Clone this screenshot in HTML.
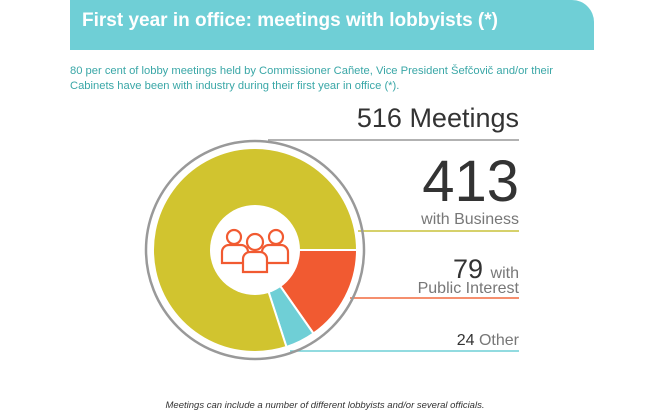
<!DOCTYPE html>
<html><head><meta charset="utf-8"><style>
body{margin:0;background:#fff;width:650px;height:410px;overflow:hidden;position:relative;font-family:"Liberation Sans","DejaVu Sans",sans-serif}
.hdr{position:absolute;left:70px;top:0;width:524px;height:50px;background:#6fcfd6;border-top-right-radius:22px}
.hdr span{position:absolute;left:12px;top:10px;color:#fff;font-weight:bold;font-size:19px}
.sub{position:absolute;left:70px;top:64px;width:525px;color:#3aa7a7;font-size:11.2px;line-height:15px}
.t{position:absolute;right:131px;color:#333;white-space:nowrap}
.g{color:#777}
.foot{position:absolute;left:0;width:650px;top:400px;text-align:center;font-style:italic;font-size:9.5px;color:#333}
</style></head><body>
<div class="hdr"><span>First year in office: meetings with lobbyists (*)</span></div>
<div class="sub">80 per cent of lobby meetings held by Commissioner Cañete, Vice President Šefčovič and/or their Cabinets have been with industry during their first year in office (*).</div>
<svg width="650" height="410" style="position:absolute;left:0;top:0">
<line x1="268" y1="140" x2="519" y2="140" stroke="#999" stroke-width="1.5"/>
<line x1="358" y1="231" x2="519" y2="231" stroke="#c9c23a" stroke-width="1.5"/>
<line x1="350" y1="298" x2="519" y2="298" stroke="#f26a3e" stroke-width="1.5"/>
<line x1="290" y1="351" x2="519" y2="351" stroke="#6fcfd6" stroke-width="1.5"/>
<circle cx="255" cy="250" r="109" fill="none" stroke="#999" stroke-width="2.5"/>
<g transform="translate(255,250)">
<path d="M0,0 L102,0 A102,102 0 0 1 58.5,83.5 Z" fill="#f15a31" stroke="#fff" stroke-width="2"/>
<path d="M0,0 L58.5,83.5 A102,102 0 0 1 31.5,97 Z" fill="#6fcfd6" stroke="#fff" stroke-width="2"/>
<path d="M0,0 L31.5,97 A102,102 0 1 1 102,0 Z" fill="#d1c42f" stroke="#fff" stroke-width="2"/>
<circle r="45" fill="#fff"/>
<g fill="none" stroke="#f15a31" stroke-width="2.2">
<circle cx="-21" cy="-13" r="7"/><circle cx="21" cy="-13" r="7"/>
<path d="M-33,13 v-11 a7,7 0 0 1 7,-7 h12 a7,7 0 0 1 7,7 v11 z"/>
<path d="M7,13 v-11 a7,7 0 0 1 7,-7 h12 a7,7 0 0 1 7,7 v11 z"/>
<circle cx="0" cy="-8" r="8" fill="#fff"/>
<path d="M-12,22 v-13 a7,7 0 0 1 7,-7 h10 a7,7 0 0 1 7,7 v13 z" fill="#fff"/>
</g>
</g>
</svg>
<div class="t" style="top:103px;font-size:27px">516 Meetings</div>
<div class="t" style="top:152px;font-size:58px;line-height:60px">413</div>
<div class="t g" style="top:211px;font-size:16px">with Business</div>
<div class="t" style="top:254px;font-size:27px">79 <span class="g" style="font-size:16px">with</span></div>
<div class="t g" style="top:280px;font-size:16px">Public Interest</div>
<div class="t" style="top:332px;font-size:16px">24 <span class="g">Other</span></div>
<div class="foot">Meetings can include a number of different lobbyists and/or several officials.</div>
</body></html>
